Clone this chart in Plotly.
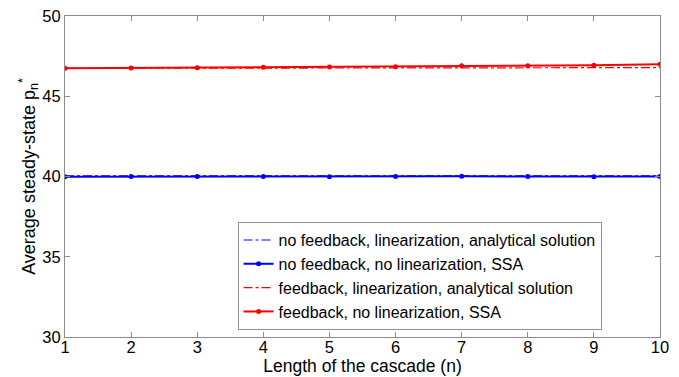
import plotly.graph_objects as go

# Cascade lengths
n = [1, 2, 3, 4, 5, 6, 7, 8, 9, 10]

# Average steady-state p_n* for each model variant
nofb_lin_analytical = [40.04, 40.04, 40.04, 40.04, 40.04, 40.04, 40.04, 40.04, 40.04, 40.04]
nofb_nolin_ssa = [39.99, 40.00, 40.00, 40.00, 39.99, 40.00, 40.01, 40.00, 39.99, 40.00]
fb_lin_analytical = [46.74, 46.75, 46.76, 46.76, 46.77, 46.77, 46.77, 46.78, 46.78, 46.78]
fb_nolin_ssa = [46.74, 46.76, 46.78, 46.80, 46.82, 46.84, 46.90, 46.90, 46.93, 46.99]

BLUE = "#0000ff"
RED = "#ff0000"
FONT = "Liberation Sans, Arial, sans-serif"

fig = go.Figure()
fig.add_trace(go.Scatter(
    x=n, y=nofb_lin_analytical, mode="lines",
    line=dict(color=BLUE, width=1.2, dash="dashdot"),
    name="no feedback, linearization, analytical solution"))
fig.add_trace(go.Scatter(
    x=n, y=nofb_nolin_ssa, mode="lines+markers",
    line=dict(color=BLUE, width=2),
    marker=dict(symbol="circle", size=5, color=BLUE),
    name="no feedback, no linearization, SSA"))
fig.add_trace(go.Scatter(
    x=n, y=fb_lin_analytical, mode="lines",
    line=dict(color=RED, width=1.2, dash="dashdot"),
    name="feedback, linearization, analytical solution"))
fig.add_trace(go.Scatter(
    x=n, y=fb_nolin_ssa, mode="lines+markers",
    line=dict(color=RED, width=2),
    marker=dict(symbol="circle", size=5, color=RED),
    name="feedback, no linearization, SSA"))

axis_common = dict(
    showgrid=False, zeroline=False, automargin=False,
    showline=True, linecolor="#8c8c8c", linewidth=1,
    mirror="ticks", ticks="inside", ticklen=5, tickcolor="#8c8c8c",
    tickfont=dict(family=FONT, size=16.5, color="black"),
)

fig.update_layout(
    width=679, height=377,
    margin=dict(l=65, r=19, t=16, b=40),
    paper_bgcolor="white", plot_bgcolor="white",
    font=dict(family=FONT, color="black"),
    xaxis=dict(
        range=[1, 10], tickvals=n, ticklabelstandoff=-5,
        title=dict(text="Length of the cascade (n)", standoff=0,
                   font=dict(family=FONT, size=17.5)),
        **axis_common),
    yaxis=dict(
        range=[30, 50], tickvals=[30, 35, 40, 45, 50],
        title=dict(text="Average steady-state p<sub>n</sub><sup>*</sup>",
                   standoff=2, font=dict(family=FONT, size=18)),
        **axis_common),
    legend=dict(
        x=0.29, y=0.358, xanchor="left", yanchor="top",
        bgcolor="white", bordercolor="#8c8c8c", borderwidth=1,
        font=dict(family=FONT, size=16), itemwidth=30, tracegroupgap=0,
    ),
    showlegend=True,
)

fig.write_html("out.html")
